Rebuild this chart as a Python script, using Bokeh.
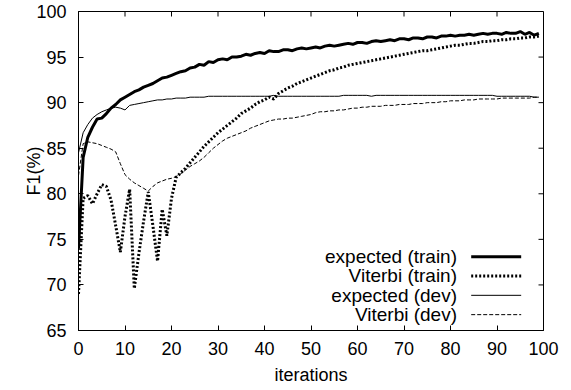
import math
from bokeh.plotting import figure
from bokeh.models import Range1d, Label, FixedTicker
from bokeh.embed import file_html
from bokeh.resources import INLINE

iterations = list(range(100))

expected_train = [
    74.0, 84.0, 86.2, 87.3, 88.2, 88.3, 88.8, 89.4, 89.8, 90.3,
    90.6, 90.9, 91.2, 91.4, 91.7, 91.9, 92.1, 92.4, 92.7, 92.8,
    93.0, 93.2, 93.4, 93.5, 93.8, 93.9, 94.2, 94.1, 94.5, 94.4,
    94.7, 94.8, 94.7, 95.0, 95.0, 95.1, 95.3, 95.2, 95.4, 95.5,
    95.4, 95.7, 95.6, 95.6, 95.8, 95.8, 95.7, 95.9, 96.0, 95.9,
    96.0, 96.1, 96.0, 96.2, 96.3, 96.2, 96.3, 96.4, 96.5, 96.4,
    96.6, 96.6, 96.5, 96.7, 96.8, 96.7, 96.8, 96.9, 96.8, 97.0,
    97.0, 96.9, 97.1, 97.1, 97.0, 97.2, 97.2, 97.1, 97.3, 97.3,
    97.4, 97.3, 97.4, 97.4, 97.5, 97.4, 97.5, 97.6, 97.5, 97.6,
    97.6, 97.5, 97.7, 97.6, 97.6, 97.8, 97.5, 97.7, 97.4, 97.6,
]

viterbi_train = [
    69.0, 79.5, 79.8, 78.9, 80.0, 81.0, 80.8, 79.3, 76.5, 73.6,
    77.5, 80.5, 69.6, 73.5, 77.0, 80.2, 76.5, 72.6, 78.3, 75.4,
    79.5, 81.8, 82.3, 82.8, 83.4, 84.0, 84.6, 85.2, 85.7, 86.2,
    86.7, 87.1, 87.5, 87.9, 88.3, 88.8, 89.1, 89.4, 89.8, 90.1,
    90.3, 90.6, 90.4, 91.0, 91.3, 91.6, 91.8, 92.1, 92.3, 92.5,
    92.7, 92.9, 93.1, 93.3, 93.5, 93.6, 93.8, 93.9, 94.1, 94.2,
    94.3, 94.4, 94.5, 94.6, 94.7, 94.8, 94.9, 95.0, 95.1, 95.2,
    95.3, 95.4, 95.5, 95.6, 95.7, 95.7, 95.8, 95.9, 96.0, 96.1,
    96.2, 96.3, 96.3, 96.4, 96.5, 96.5, 96.6, 96.7, 96.7, 96.8,
    96.8, 96.9, 96.9, 97.0, 97.0, 97.1, 97.1, 97.2, 97.2, 97.3,
]

expected_dev = [
    84.5, 86.7, 87.6, 88.3, 88.7, 89.0, 89.2, 89.4, 89.5, 89.4,
    89.2, 89.7, 89.8, 89.9, 90.0, 90.1, 90.2, 90.3, 90.3, 90.4,
    90.4, 90.5, 90.5, 90.5, 90.6, 90.6, 90.6, 90.6, 90.7, 90.7,
    90.7, 90.7, 90.7, 90.7, 90.7, 90.7, 90.7, 90.7, 90.7, 90.7,
    90.7, 90.7, 90.8, 90.7, 90.7, 90.7, 90.7, 90.7, 90.7, 90.7,
    90.7, 90.7, 90.7, 90.7, 90.7, 90.7, 90.7, 90.8, 90.8, 90.8,
    90.8, 90.8, 90.8, 90.7, 90.8, 90.8, 90.8, 90.8, 90.8, 90.8,
    90.8, 90.8, 90.8, 90.8, 90.8, 90.8, 90.8, 90.8, 90.8, 90.8,
    90.8, 90.8, 90.8, 90.8, 90.8, 90.8, 90.8, 90.8, 90.8, 90.8,
    90.7, 90.7, 90.7, 90.7, 90.7, 90.7, 90.7, 90.7, 90.6, 90.6,
]

viterbi_dev = [
    82.0, 85.5, 85.7, 85.6, 85.5, 85.3, 85.1, 84.9, 84.6, 83.3,
    82.1, 81.6, 81.2, 80.9, 80.6, 80.3, 80.8, 81.2, 81.4, 81.6,
    81.7, 81.9, 82.2, 82.6, 83.0, 83.3, 83.6, 84.0, 84.5, 85.0,
    85.4, 85.8, 86.1, 86.3, 86.5, 86.7, 86.9, 87.2, 87.4, 87.6,
    87.8, 88.0, 88.1, 88.2, 88.2, 88.3, 88.3, 88.4, 88.5, 88.6,
    88.7, 88.9, 89.0, 89.0, 89.1, 89.1, 89.2, 89.2, 89.3, 89.4,
    89.4, 89.5, 89.5, 89.6, 89.6, 89.6, 89.7, 89.7, 89.7, 89.8,
    89.8, 89.8, 89.9, 89.9, 89.9, 90.0, 90.0, 90.0, 90.1, 90.1,
    90.2, 90.2, 90.2, 90.3, 90.3, 90.3, 90.4, 90.4, 90.4, 90.4,
    90.4, 90.5, 90.5, 90.5, 90.5, 90.5, 90.5, 90.5, 90.6, 90.6,
]

series_labels = ["expected (train)", "Viterbi (train)", "expected (dev)", "Viterbi (dev)"]
x_ticks = [0, 10, 20, 30, 40, 50, 60, 70, 80, 90, 100]
y_ticks = [65, 70, 75, 80, 85, 90, 95, 100]
x_title = "iterations"
y_title = "F1(%)"

FONT = "Liberation Sans"
FS = "18px"
KEY_FS = "19px"

X0, X1, Y0, Y1 = 0, 100, 65, 100

p = figure(width=571, height=390, output_backend="svg", toolbar_location=None,
           x_range=Range1d(X0, X1), y_range=Range1d(Y0, Y1),
           min_border_left=78, min_border_right=28, min_border_top=11, min_border_bottom=60)
p.xgrid.visible = False
p.ygrid.visible = False
p.background_fill_color = "white"
p.border_fill_color = "white"
p.outline_line_color = "black"
p.outline_line_width = 1

for ax, ticks in ((p.xaxis[0], x_ticks), (p.yaxis[0], y_ticks)):
    ax.ticker = FixedTicker(ticks=ticks)
    ax.major_tick_in = 5
    ax.major_tick_out = 0
    ax.minor_tick_line_color = None
    ax.axis_line_color = "black"
    ax.major_tick_line_color = "black"
    ax.major_label_text_font = FONT
    ax.major_label_text_font_size = FS
    ax.major_label_text_color = "black"
    ax.axis_label_text_font = FONT
    ax.axis_label_text_font_size = FS
    ax.axis_label_text_font_style = "normal"
    ax.axis_label_text_color = "black"

p.xaxis[0].major_label_standoff = 11
p.xaxis[0].axis_label = x_title
p.xaxis[0].axis_label_standoff = 7
p.yaxis[0].major_label_standoff = 12
p.yaxis[0].axis_label = y_title
p.yaxis[0].axis_label_standoff = -11

# mirrored ticks on the top and right edges (gnuplot style)
p.ray(x=x_ticks, y=Y1, length=5, length_units="screen", angle=-math.pi / 2,
      line_color="black", line_width=1)
p.ray(x=X1, y=y_ticks, length=5, length_units="screen", angle=math.pi,
      line_color="black", line_width=1)

styles = [
    dict(line_width=3),
    dict(line_width=3, line_dash="2 2"),
    dict(line_width=1),
    dict(line_width=1, line_dash="4 2"),
]
series = [expected_train, viterbi_train, expected_dev, viterbi_dev]

for ys, st in zip(series, styles):
    p.line(iterations, ys, line_color="black", **st)

# gnuplot-style key: right-aligned text followed by a line sample
key_text_x = 81.4
key_x0, key_x1 = 84.45, 95.2
key_top, key_step = 73.1, 2.12
for k, (lab, st) in enumerate(zip(series_labels, styles)):
    ky = key_top - k * key_step
    p.line([key_x0, key_x1], [ky, ky], line_color="black", **st)
    p.add_layout(Label(x=key_text_x, y=ky, text=lab, text_align="right", text_baseline="middle",
                       text_font=FONT, text_font_size=KEY_FS, text_color="black"))

open("out.html", "w").write(file_html(p, INLINE))
